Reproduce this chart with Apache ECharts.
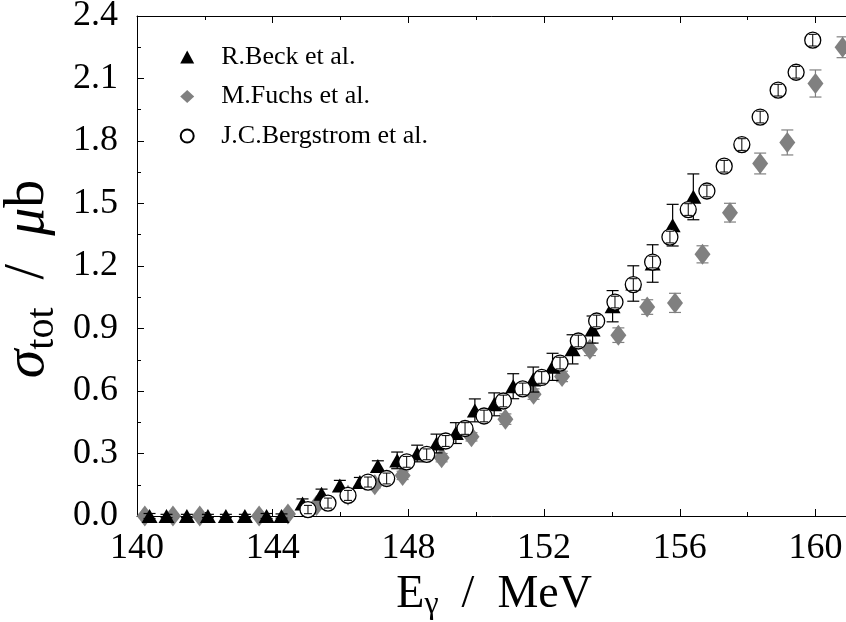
<!DOCTYPE html>
<html><head><meta charset="utf-8">
<script src="https://cdn.jsdelivr.net/npm/echarts@6/dist/echarts.min.js"></script>
<style>html,body{margin:0;padding:0;background:#fff}#c{width:846px;height:622px}</style>
</head><body><div id="c"></div>
<script>
// ---- data ----
const beckE = [140.37,140.87,141.47,142.09,142.62,143.18,143.82,144.26,144.88,145.44,145.98,146.57,147.10,147.67,148.26,148.83,149.40,149.96,150.53,151.09,151.68,152.25,152.84,153.43,154.02,154.63,155.20,155.79,156.40];
const beckS = [0.00,0.00,0.00,0.00,0.00,0.00,0.00,0.00,0.06,0.107,0.147,0.163,0.24,0.267,0.30,0.348,0.398,0.507,0.536,0.623,0.655,0.716,0.80,0.895,1.007,1.116,1.212,1.396,1.532];
const beckErr = [0.012,0.008,0.008,0.008,0.008,0.008,0.012,0.01,0.022,0.022,0.024,0.022,0.025,0.04,0.04,0.045,0.05,0.055,0.055,0.06,0.06,0.065,0.07,0.065,0.075,0.085,0.09,0.10,0.11];

const fuchsE = [140.23,141.06,141.85,143.60,144.45,145.29,146.22,147.01,147.83,148.98,149.86,150.86,151.69,152.53,153.35,154.19,155.04,155.86,156.67,157.48,158.37,159.17,160.00,160.80];
const fuchsS = [0.00,0.00,0.00,0.00,0.01,0.05,0.10,0.15,0.195,0.28,0.38,0.465,0.585,0.67,0.80,0.868,1.003,1.023,1.256,1.456,1.692,1.793,2.076,2.25];
const fuchsErr = [0.01,0.01,0.01,0.01,0.01,0.015,0.015,0.015,0.02,0.02,0.02,0.025,0.025,0.025,0.03,0.035,0.035,0.046,0.041,0.045,0.05,0.06,0.065,0.05];

const bergE = [145.04,145.63,146.22,146.81,147.36,147.95,148.54,149.10,149.67,150.23,150.80,151.37,151.93,152.47,153.01,153.55,154.09,154.63,155.20,155.71,156.25,156.80,157.31,157.83,158.37,158.90,159.43,159.92];
const bergS = [0.031,0.062,0.099,0.163,0.18,0.26,0.296,0.36,0.42,0.48,0.552,0.61,0.665,0.734,0.84,0.936,1.027,1.111,1.219,1.339,1.471,1.56,1.679,1.783,1.915,2.044,2.13,2.284];
const bergErr = [0.02,0.024,0.024,0.024,0.026,0.026,0.026,0.026,0.028,0.028,0.028,0.028,0.028,0.028,0.028,0.028,0.028,0.028,0.028,0.028,0.028,0.028,0.028,0.028,0.028,0.028,0.028,0.028];

const seriesNames = ['R.Beck et al.', 'M.Fuchs et al.', 'J.C.Bergstrom et al.'];
const xTicks = [140,144,148,152,156,160];
const yTicks = [0.0,0.3,0.6,0.9,1.2,1.5,1.8,2.1,2.4];

// ---- build ----
const zip = (a,b) => a.map((v,i)=>[v,b[i]]);
const zip3 = (a,b,c) => a.map((v,i)=>[v,b[i],c[i]]);
const FONT = 'Liberation Serif';

function errRender(color, cap, lw) {
  return function(params, api) {
    const x = api.value(0), y = api.value(1), e = api.value(2);
    const t = api.coord([x, y + e]), b = api.coord([x, y - e]);
    const h = cap / 2;
    const st = {stroke: color, lineWidth: lw};
    return {type: 'group', children: [
      {type: 'line', shape: {x1: t[0], y1: t[1], x2: b[0], y2: b[1]}, style: st},
      {type: 'line', shape: {x1: t[0]-h, y1: t[1], x2: t[0]+h, y2: t[1]}, style: st},
      {type: 'line', shape: {x1: b[0]-h, y1: b[1], x2: b[0]+h, y2: b[1]}, style: st}
    ]};
  };
}

const axisCommon = {
  axisLine: {show: true, lineStyle: {color: '#000', width: 1}},
  axisTick: {show: true, inside: true, length: 7, lineStyle: {color: '#000'}},
  minorTick: {show: true, splitNumber: 2, length: 4, lineStyle: {color: '#000'}},
  splitLine: {show: false},
  minorSplitLine: {show: false}
};

const chart = echarts.init(document.getElementById('c'), null, {renderer: 'canvas'});
chart.setOption({
  animation: false,
  backgroundColor: '#fff',
  grid: {left: 137, top: 16, right: -37.3, bottom: 106, outerBoundsMode: 'none', containLabel: false},
  legend: {
    orient: 'vertical', left: 174.7, top: 39, itemGap: 13.5,
    itemWidth: 14, itemHeight: 13,
    textStyle: {fontFamily: FONT, fontSize: 26, color: '#000', lineHeight: 24, padding: [0,0,0,22]},
    data: seriesNames
  },
  xAxis: [
    Object.assign({type: 'value', min: 140, max: 162, interval: 4, position: 'bottom',
      name: '{n|E}{sub|γ}{n|  /  MeV}', nameLocation: 'middle', nameGap: 42,
      nameTextStyle: {fontFamily: FONT, color: '#000', padding: [0, 32, 0, 0], rich: {
        n: {fontFamily: FONT, fontSize: 46, color: '#000'},
        sub: {fontFamily: FONT, fontSize: 32, color: '#000', padding: [20,0,0,0]}
      }},
      axisLabel: {fontFamily: FONT, fontSize: 36, color: '#000', margin: 15, showMaxLabel: false,
        formatter: v => xTicks.includes(v) ? String(v) : ''}
    }, axisCommon),
    Object.assign({type: 'value', min: 140, max: 162, interval: 4, position: 'top',
      axisLabel: {show: false}}, axisCommon)
  ],
  yAxis: Object.assign({type: 'value', min: 0, max: 2.4, interval: 0.3, position: 'left',
    name: '{s|σ}{sub|tot}{n|  /  }{i|μ}{n|b}', nameLocation: 'middle', nameRotate: 90, nameGap: 74,
    nameTextStyle: {fontFamily: FONT, color: '#000', padding: [0, 26, 0, 0], rich: {
      s: {fontFamily: FONT, fontSize: 58, fontStyle: 'italic', color: '#000'},
      i: {fontFamily: FONT, fontSize: 56, fontStyle: 'italic', color: '#000'},
      n: {fontFamily: FONT, fontSize: 56, color: '#000'},
      sub: {fontFamily: FONT, fontSize: 40, color: '#000', padding: [28,0,0,0]}
    }},
    axisLabel: {fontFamily: FONT, fontSize: 36, color: '#000', margin: 19,
      formatter: v => yTicks.some(t => Math.abs(t - v) < 1e-6) ? v.toFixed(1) : ''}
  }, axisCommon),
  series: [
    {type: 'custom', name: 'fuchsErr', z: 1, renderItem: errRender('#808080', 12, 1.2),
      data: zip3(fuchsE, fuchsS, fuchsErr), encode: {x: 0, y: 1}, silent: true},
    {type: 'scatter', name: seriesNames[1], z: 2, symbol: 'diamond', symbolSize: [16, 21],
      itemStyle: {color: '#808080', opacity: 1}, data: zip(fuchsE, fuchsS), clip: false},
    {type: 'custom', name: 'beckErr', z: 3, renderItem: errRender('#000', 12, 1.2),
      data: zip3(beckE, beckS, beckErr), encode: {x: 0, y: 1}, silent: true},
    {type: 'scatter', name: seriesNames[0], z: 4, symbol: 'triangle', symbolSize: [16, 14],
      itemStyle: {color: '#000', opacity: 1}, data: zip(beckE, beckS), clip: false},
    {type: 'scatter', name: seriesNames[2], z: 5, symbol: 'circle', symbolSize: 16,
      itemStyle: {color: '#fff', borderColor: '#000', borderWidth: 1.3, opacity: 1}, data: zip(bergE, bergS), clip: false},
    {type: 'custom', name: 'bergErr', z: 6, renderItem: errRender('#000', 8, 1),
      data: zip3(bergE, bergS, bergErr), encode: {x: 0, y: 1}, silent: true}
  ]
});
</script>
</body></html>
